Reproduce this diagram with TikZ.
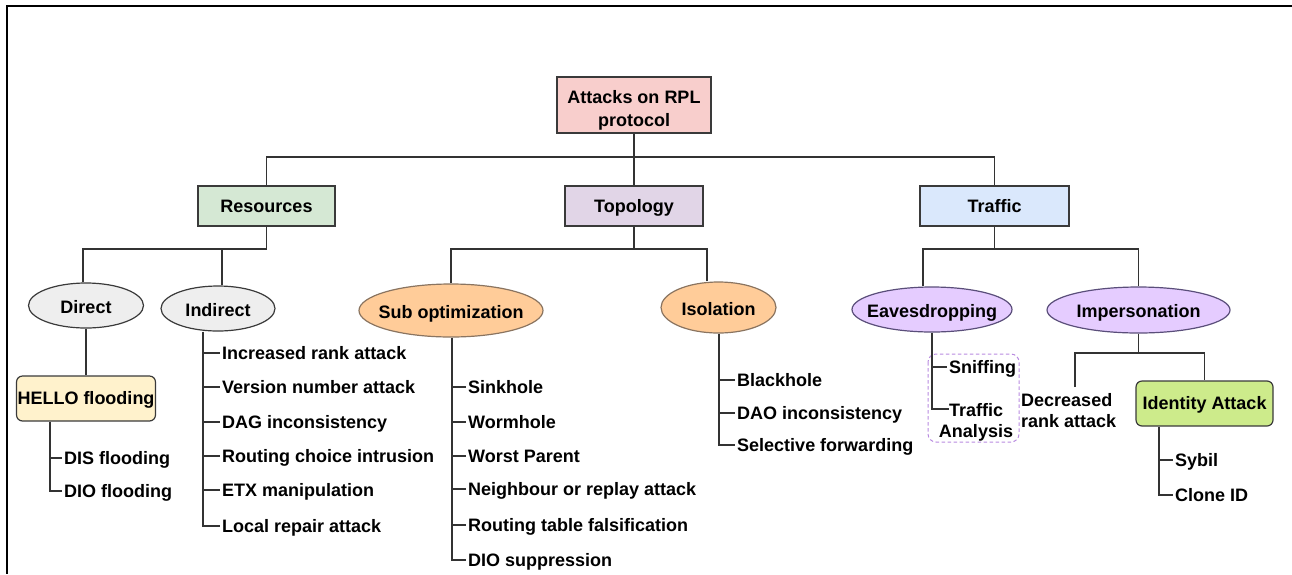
\documentclass[tikz,border=0pt]{standalone}
\usepackage{fontspec}
\setmainfont{Liberation Sans}
\usetikzlibrary{shapes.geometric}

\definecolor{wire}{HTML}{333333}
\definecolor{outline}{HTML}{3A3A3A}
\definecolor{rootfill}{HTML}{F8CECC}
\definecolor{resfill}{HTML}{D5E8D4}
\definecolor{topofill}{HTML}{E1D5E7}
\definecolor{trafill}{HTML}{DAE8FC}
\definecolor{greyfill}{HTML}{EEEEEE}
\definecolor{orangefill}{HTML}{FFCC99}
\definecolor{orangeline}{HTML}{8A7460}
\definecolor{lilacfill}{HTML}{E5CCFF}
\definecolor{lilacline}{HTML}{5A4E7A}
\definecolor{hellofill}{HTML}{FFF2CC}
\definecolor{idfill}{HTML}{CDEB8B}
\definecolor{dashline}{HTML}{B98BE0}

\begin{document}
\begin{tikzpicture}[x=1pt,y=-1pt,
  every node/.style={font=\fontsize{18}{21}\selectfont\bfseries},
  conn/.style={draw=wire, line width=1.1pt},
  capline/.style={text height=12.8pt, text depth=0pt},
  catbox/.style={draw=outline, line width=1.2pt, inner sep=1pt,
    minimum height=40pt, capline},
  roundbox/.style={draw=outline, line width=1.2pt, inner sep=1pt,
    rounded corners=6pt, minimum height=45pt, capline},
  oval/.style={ellipse, draw=outline, line width=1.2pt, inner sep=0pt},
  ovaltext/.style={capline, inner sep=0pt, yshift=-1.5pt},
  item/.style={anchor=west, inner xsep=2pt, inner ysep=0pt, capline},
]
\useasboundingbox (0,0) rectangle (1292,574);

% frame
\draw[line width=2.2pt, black] (1292,6) -- (7,6) -- (7,574);

% ---------- top levels ----------
\node[draw=outline, line width=1.2pt, fill=rootfill, minimum width=154pt,
  minimum height=56pt, inner sep=0pt,
  label={[align=center, font=\fontsize{18}{23}\selectfont\bfseries, yshift=-5.5pt]center:Attacks on RPL\\protocol}]
  (root) at (634,105) {};

\node[catbox, fill=resfill, minimum width=137pt] (res) at (266.5,206) {Resources};
\node[catbox, fill=topofill, minimum width=138pt] (topo) at (634,206) {Topology};
\node[catbox, fill=trafill, minimum width=149pt] (traf) at (994.5,206) {Traffic};

\coordinate (bus0) at (0,157);
\draw[conn] (root.south) -- (topo.north);
\draw[conn] (res.north) -- (res.north |- bus0) -- (traf.north |- bus0) -- (traf.north);

% ---------- second level ----------
\node[oval, fill=greyfill, minimum width=115pt, minimum height=45pt,
  label={[ovaltext]center:Direct}] (dir) at (86,305.5) {};
\node[oval, fill=greyfill, minimum width=114pt, minimum height=45pt,
  label={[ovaltext]center:Indirect}] (ind) at (218,308.5) {};
\node[oval, fill=orangefill, draw=orangeline, minimum width=184pt, minimum height=53pt,
  label={[ovaltext]center:Sub optimization}] (sub) at (451,310.5) {};
\node[oval, fill=orangefill, draw=orangeline, minimum width=115pt, minimum height=51pt,
  label={[ovaltext]center:Isolation}] (iso) at (718.5,307.5) {};
\node[oval, fill=lilacfill, draw=lilacline, minimum width=160pt, minimum height=45pt,
  label={[ovaltext]center:Eavesdropping}] (eav) at (932,309.5) {};
\node[oval, fill=lilacfill, draw=lilacline, minimum width=183pt, minimum height=46pt,
  label={[ovaltext]center:Impersonation}] (imp) at (1138.5,310) {};

% buses below the categories
\coordinate (bus1) at (0,249);
\coordinate (xdir) at (83,0);
\coordinate (xind) at (222,0);
\coordinate (xiso) at (707,0);
\coordinate (xeav) at (923,0);

\draw[conn] (res.south) -- (res.south |- bus1);
\draw[conn] (xdir |- dir.north) -- (xdir |- bus1) -- (xind |- bus1) -- (xind |- ind.north);
\draw[conn] (res.south |- bus1) -- (xind |- bus1);

\draw[conn] (topo.south) -- (topo.south |- bus1);
\draw[conn] (sub.north) -- (sub.north |- bus1) -- (xiso |- bus1) -- (xiso |- iso.north);

\draw[conn] (traf.south) -- (traf.south |- bus1);
\draw[conn] (xeav |- eav.north) -- (xeav |- bus1) -- (imp.north |- bus1) -- (imp.north);

% ---------- Direct ----------
\node[roundbox, fill=hellofill, minimum width=138pt] (hello) at (86,398.5) {HELLO flooding};
\draw[conn] (dir.south) -- (hello.north);

\coordinate (shello) at (50,0);
\node[item] (dis) at (62,458) {DIS flooding};
\node[item] (dio) at (62,491) {DIO flooding};
\draw[conn] (shello |- hello.south) -- (shello |- dio.west) -- (dio.west);
\draw[conn] (shello |- dis.west) -- (dis.west);

% ---------- Indirect ----------
\coordinate (sind) at (203,0);
\node[item] (i1) at (220,353) {Increased rank attack};
\node[item] (i2) at (220,387) {Version number attack};
\node[item] (i3) at (220,422) {DAG inconsistency};
\node[item] (i4) at (220,456) {Routing choice intrusion};
\node[item] (i5) at (220,490) {ETX manipulation};
\node[item] (i6) at (220,526) {Local repair attack};
\draw[conn] (sind |- ind.south) -- (sind |- i6.west) -- (i6.west);
\foreach \n in {i1,i2,i3,i4,i5} \draw[conn] (sind |- \n.west) -- (\n.west);

% ---------- Sub optimization ----------
\coordinate (ssub) at (452,0);
\node[item] (s1) at (466,387) {Sinkhole};
\node[item] (s2) at (466,422) {Wormhole};
\node[item] (s3) at (466,456) {Worst Parent};
\node[item] (s4) at (466,489) {Neighbour or replay attack};
\node[item] (s5) at (466,525) {Routing table falsification};
\node[item] (s6) at (466,560) {DIO suppression};
\draw[conn] (ssub |- sub.south) -- (ssub |- s6.west) -- (s6.west);
\foreach \n in {s1,s2,s3,s4,s5} \draw[conn] (ssub |- \n.west) -- (\n.west);

% ---------- Isolation ----------
\coordinate (siso) at (719,0);
\node[item] (o1) at (735,380) {Blackhole};
\node[item] (o2) at (735,413) {DAO inconsistency};
\node[item] (o3) at (735,445) {Selective forwarding};
\draw[conn] (siso |- iso.south) -- (siso |- o3.west) -- (o3.west);
\foreach \n in {o1,o2} \draw[conn] (siso |- \n.west) -- (\n.west);

% ---------- Eavesdropping ----------
\draw[dashline, line width=1pt, dash pattern=on 3.5pt off 2.5pt, rounded corners=8pt]
  (928,354) rectangle (1019,442);
\coordinate (seav) at (932,0);
\node[item] (sn) at (947,367) {Sniffing};
\node[anchor=north, align=center, inner sep=0pt] (ta) at (976,403) {Traffic\\Analysis};
\coordinate (tatick) at (949,409);
\draw[conn] (seav |- eav.south) -- (seav |- tatick) -- (tatick);
\draw[conn] (seav |- sn.west) -- (sn.west);

% ---------- Impersonation ----------
\node[roundbox, fill=idfill, minimum width=137pt] (idat) at (1204.5,403.5) {Identity Attack};
\node[anchor=north west, align=left, inner sep=0pt] (dra) at (1021,393.5) {Decreased\\rank attack};
\coordinate (bus2) at (0,353);
\coordinate (xdra) at (1075,0);
\coordinate (draend) at (1075,387);
\draw[conn] (imp.south) -- (imp.south |- bus2);
\draw[conn] (draend) -- (xdra |- bus2) -- (idat.north |- bus2) -- (idat.north);

\coordinate (sid) at (1159,0);
\node[item] (d1) at (1173,460) {Sybil};
\node[item] (d2) at (1173,495) {Clone ID};
\draw[conn] (sid |- idat.south) -- (sid |- d2.west) -- (d2.west);
\draw[conn] (sid |- d1.west) -- (d1.west);

\end{tikzpicture}
\end{document}
